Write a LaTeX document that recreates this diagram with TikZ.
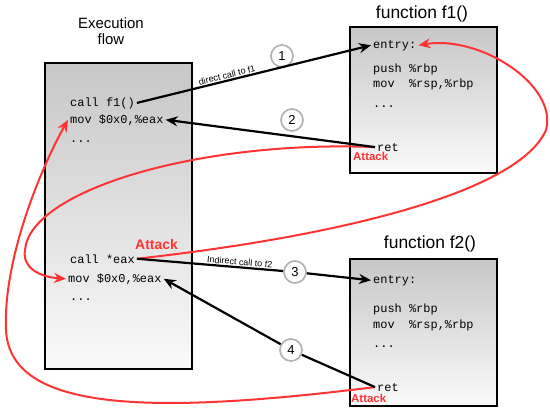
\documentclass[tikz,border=0pt]{standalone}
\usepackage{fontspec}
\setmainfont{Liberation Sans}
\setmonofont{Liberation Mono}
\usepackage{tikz}
\usetikzlibrary{arrows.meta}
\definecolor{attackred}{HTML}{FF3333}
\tikzset{
  codebox/.style={draw=black, line width=2bp, top color=black!22, bottom color=black!2},
  code/.style={anchor=base west, inner sep=2bp, font=\ttfamily\fontsize{12}{14}\selectfont},
  title/.style={anchor=base, inner sep=0, font=\fontsize{17.5}{20}\selectfont},
  numcirc/.style={circle, draw=black!30, line width=1.7bp, fill=white, minimum size=22bp, inner sep=0, font=\fontsize{13}{14}\selectfont},
  callarrow/.style={black, line width=2.2bp, ->, >={Stealth[length=12bp,width=10bp]}},
  attackarrow/.style={attackred, line width=2bp, ->, >={Stealth[length=12bp,width=10bp]}},
  attacklbl/.style={anchor=base west, inner sep=0, text=attackred, font=\bfseries\fontsize{11.5}{12}\selectfont},
  calllbl/.style={sloped, above, inner sep=1bp, font=\fontsize{9}{10}\selectfont}
}

\begin{document}
\begin{tikzpicture}[x=1bp, y=-1bp]
\useasboundingbox (0,0) rectangle (550,411);
% boxes
\draw[codebox] (45,63) rectangle (192,369);
\draw[codebox] (350,27) rectangle (497,173);
\draw[codebox] (350,259) rectangle (497,406);
% titles
\node[anchor=north, inner sep=0, align=center, font=\fontsize{15}{17}\selectfont] (flowtitle) at (111,17) {Execution\\flow};
\node[title] (fonetitle) at (422,18) {function f1()};
\node[title] (ftwotitle) at (430,248) {function f2()};
% execution flow
\node[code] (callf) at (68,106) {call f1()};
\node[code] (mova) at (68,123) {mov \$0x0,\%eax};
\node[code] (dotsa) at (68,142) {...};
\node[code] (callx) at (68,263) {call *eax};
\node[code] (movb) at (66,282) {mov \$0x0,\%eax};
\node[code] (dotsb) at (68,300) {...};
\node[attacklbl, font=\bfseries\fontsize{14}{15}\selectfont] (attackx) at (135,249) {Attack};
% function f1
\node[code] (entrya) at (371,48) {entry:};
\node[code] (pusha) at (371,72) {push \%rbp};
\node[code] (rspa) at (371,87) {mov~~\%rsp,\%rbp};
\node[code] (dotsc) at (371,107) {...};
\node[code] (retf1) at (375,151) {ret};
\node[attacklbl] (attacka) at (353,160) {Attack};
% function f2
\node[code] (entryb) at (371,283) {entry:};
\node[code] (pushb) at (371,312) {push \%rbp};
\node[code] (rspb) at (371,328) {mov~~\%rsp,\%rbp};
\node[code] (dotsd) at (371,347) {...};
\node[code] (retf2) at (375,391) {ret};
\node[attacklbl] (attackb) at (351,402) {Attack};
% step numbers
\foreach \n/\x/\y in {1/282/56, 2/292/120, 3/295/272, 4/291/350}
  \node[numcirc] (c\n) at (\x,\y) {\n};
% attack paths
\draw[attackarrow] (retf1.west) .. controls (200,140) and (30,190) .. (25,250)
  .. controls (22,268) and (40,277) .. (movb.west);
\draw[attackarrow] (callx.east) .. controls (350,235) and (520,190) .. (546,130)
  .. controls (558,85) and (480,35) .. (entrya.east);
\draw[attackarrow] (retf2.west) .. controls (150,415) and (10,412) .. (6,330)
  .. controls (3,260) and (40,170) .. (mova.west);
% calls and returns
\draw[callarrow] (callf.east) -- node[calllbl, pos=.39] {direct call to f1} (entrya.west);
\draw[callarrow] (retf1.west) -- (mova.east);
\draw[callarrow] (callx.east) -- node[calllbl, pos=.7] {Indirect call to f2} (c3) -- (entryb.west);
\draw[callarrow] (retf2.west) -- (c4) -- (movb.east);
\end{tikzpicture}
\end{document}
